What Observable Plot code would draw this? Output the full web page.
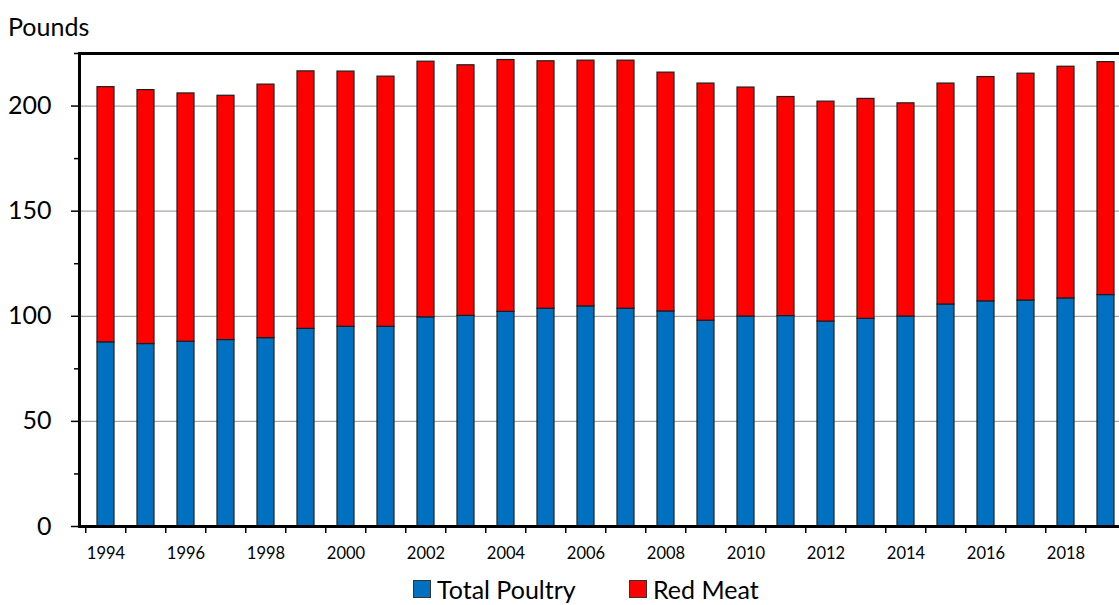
<!DOCTYPE html>
<html>
<head>
<meta charset="utf-8">
<script src="https://cdn.jsdelivr.net/npm/d3@7"></script>
<script src="https://cdn.jsdelivr.net/npm/@observablehq/plot@0.6"></script>
<style>
  html, body { margin: 0; padding: 0; background: #fff; }
  body { font-family: Lato, "Open Sans", sans-serif; color: #000; }
  #wrap { position: relative; width: 1119px; height: 605px; overflow: hidden; background: #fff; }
  #ylab { position: absolute; left: 8px; top: 11px; font-size: 25px; line-height: 30px; }
  #chart { position: absolute; left: 0; top: 40px; }
  .item { position: absolute; top: 574px; height: 30px; display: flex; align-items: center; font-size: 25px; line-height: 30px; white-space: nowrap; }
  .sw { width: 18px; height: 18px; border: 1px solid #333; margin-right: 6px; box-sizing: border-box; }
</style>
</head>
<body>
<div id="wrap">
  <div id="ylab">Pounds</div>
  <div id="chart"></div>
  <div class="item" style="left:413px"><span class="sw" style="background:#0070C0"></span><span>Total Poultry</span></div>
  <div class="item" style="left:629px"><span class="sw" style="background:#FF0000"></span><span>Red Meat</span></div>
</div>
<script>
const years = [1994, 1995, 1996, 1997, 1998, 1999, 2000, 2001, 2002, 2003, 2004, 2005, 2006,
               2007, 2008, 2009, 2010, 2011, 2012, 2013, 2014, 2015, 2016, 2017, 2018, 2019];
const poultry = [87.6, 86.8, 87.9, 88.7, 89.6, 94.0, 95.0, 95.0, 99.5, 100.2, 102.1, 103.6, 104.7,
                 103.6, 102.3, 97.9, 99.9, 100.1, 97.5, 98.8, 99.9, 105.6, 107.1, 107.5, 108.5, 110.1];
const redMeat = [121.4, 120.8, 118.1, 116.2, 120.6, 122.5, 121.4, 119.0, 121.6, 119.2, 119.8, 117.7, 116.9,
                 118.0, 113.6, 112.8, 108.9, 104.2, 104.6, 104.6, 101.4, 105.1, 106.7, 107.9, 110.2, 110.8];
const seriesNames = ["Total Poultry", "Red Meat"];
const seriesColors = ["#0070C0", "#FF0000"];
const yMajorTicks = [0, 50, 100, 150, 200];
const yMinorTicks = [25, 75, 125, 175, 225];
const xTickLabels = [1994, 1996, 1998, 2000, 2002, 2004, 2006, 2008, 2010, 2012, 2014, 2016, 2018];

const data = years.flatMap((yr, i) => [
  {year: yr, series: seriesNames[0], value: poultry[i]},
  {year: yr, series: seriesNames[1], value: redMeat[i]}
]);

const W = 1132, ML = 79;
const step = (W - ML) / years.length;

const chart = Plot.plot({
  width: W,
  height: 534,
  marginLeft: ML,
  marginRight: 0,
  marginTop: 13,
  marginBottom: 48,
  style: "max-width:none;background:transparent;overflow:visible;font-family:Lato,'Open Sans',sans-serif;color:#000;",
  x: {type: "band", domain: years, paddingInner: 0.58, paddingOuter: 0.29, label: null},
  y: {domain: [0, 225], label: null},
  color: {domain: seriesNames, range: seriesColors},
  marks: [
    Plot.gridY([50, 100, 150, 200], {stroke: "#a6a6a6", strokeOpacity: 1, strokeWidth: 1.3}),
    Plot.barY(data, {x: "year", y: "value", fill: "series", order: seriesNames, stroke: "#1e1e1e", strokeWidth: 1.2}),
    Plot.frame({stroke: "#000", strokeWidth: 3}),
    Plot.axisY({ticks: yMajorTicks, tickSize: 8, tickPadding: 20, fontSize: 25, strokeWidth: 1.5, label: null}),
    Plot.axisY({ticks: yMinorTicks, tickSize: 5, tickFormat: () => "", strokeWidth: 1.5, label: null}),
    Plot.axisX({ticks: years, tickSize: 7, tickFormat: () => "", dx: -step / 2, strokeWidth: 1.5, label: null}),
    Plot.axisX({ticks: xTickLabels, tickSize: 0, tickPadding: 21, fontSize: 16.5, tickFormat: d => String(d), label: null})
  ]
});
document.getElementById("chart").appendChild(chart);
</script>
</body>
</html>
